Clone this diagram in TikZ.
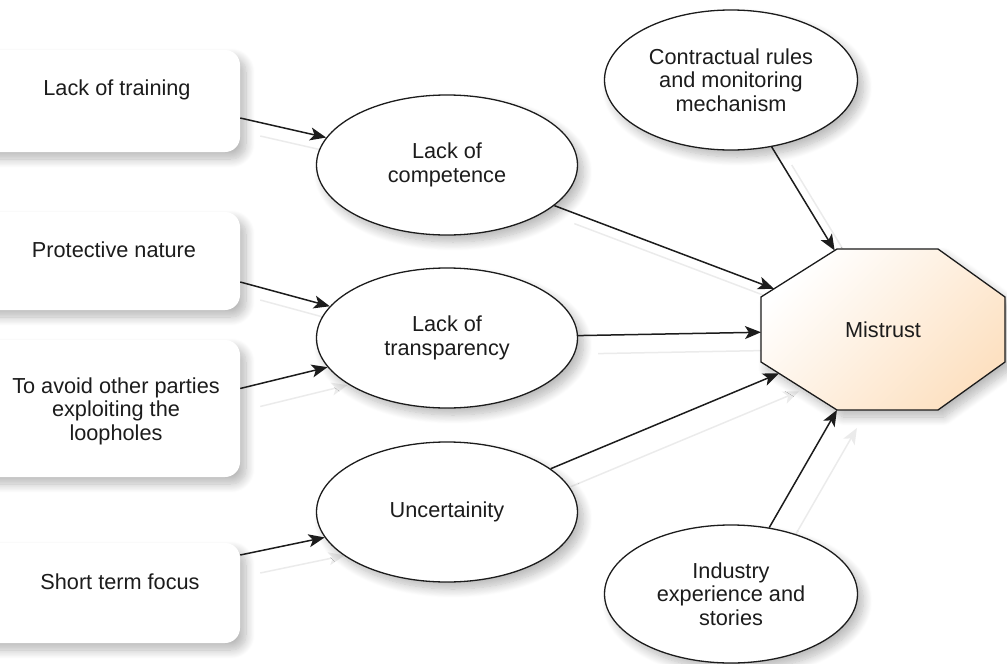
\documentclass[tikz,border=0pt]{standalone}
\usepackage{fontspec}
\setmainfont{Liberation Sans}
\usetikzlibrary{arrows.meta,shapes.geometric,shadows.blur,calc,intersections,backgrounds}
\definecolor{peach}{HTML}{FDE1C2}
\definecolor{ink}{HTML}{1C1C1C}
\definecolor{ghost}{HTML}{EBEBEB}
\begin{document}
\begin{tikzpicture}[x=1pt,y=-1pt,
  font=\fontsize{21.7}{23.5}\selectfont, text=ink,
  soft/.style={blur shadow={shadow xshift=6pt,shadow yshift=-7pt,
      shadow blur radius=9pt,shadow blur steps=12,shadow opacity=28}},
  causebox/.style={rectangle, rounded corners=15pt, fill=white,
      minimum width=270pt, inner sep=0pt, soft},
  boxtext/.style={align=center, inner sep=1pt},
  factor/.style={ellipse, draw=ink, line width=1.3pt, fill=white,
      align=center, inner sep=0pt, soft},
  link/.style={draw=ink, line width=1.5pt,
      -{Stealth[length=16pt,width=13pt,inset=4pt]}},
  ghostlink/.style={draw=ghost, line width=1.5pt,
      -{Stealth[length=16pt,width=13pt,inset=4pt]}}
]
\useasboundingbox (0,0) rectangle (1007,664);

% cause boxes on the left (they run past the left border)
\node[causebox, minimum height=102pt] (b1) at (105,101) {};
\node[causebox, minimum height=98pt]  (b2) at (105,261) {};
\node[causebox, minimum height=137pt] (b3) at (105,408.5) {};
\node[causebox, minimum height=100pt] (b4) at (105,593) {};
\node[boxtext] (t1) at (117,90)  {Lack of training};
\node[boxtext] (t2) at (114,250) {Protective nature};
\node[boxtext] (t3) at (116,411) {To avoid other parties\\exploiting the\\loopholes};
\node[boxtext] (t4) at (120,582) {Short term focus};

% intermediate factors
\node[factor, minimum width=261pt, minimum height=140pt] (e1) at (447,165) {Lack of\\competence};
\node[factor, minimum width=261pt, minimum height=140pt] (e2) at (447,338) {Lack of\\transparency};
\node[factor, minimum width=261pt, minimum height=140pt] (e3) at (447,512) {Uncertainity};
\node[factor, minimum width=253pt, minimum height=140pt] (ec) at (731,80)  {Contractual rules\\and monitoring\\mechanism};
\node[factor, minimum width=253pt, minimum height=138pt] (ei) at (731,594) {Industry\\experience and\\stories};

% the octagon
\path[name path=oct, draw=ink, line width=1.3pt, top color=white,
      bottom color=peach, shading angle=45, soft]
  (837,249) -- (938,249) -- (1005,297) -- (1005,362) -- (938,410)
  -- (837,410) -- (761,362) -- (761,297) -- cycle;
\node (m) at (883,330) {Mistrust};

% start points on the boxes
\coordinate (s1) at ($(b1.east)+(0,17)$);
\coordinate (s2) at ($(b2.east)+(0,21)$);
\coordinate (s3) at ($(b3.east)+(0,-20)$);
\coordinate (s4) at ($(b4.east)+(0,-38)$);

% end points on the octagon
\path[name path=rA] (e1) -- (m);
\path[name path=rB] (e2) -- (m);
\path[name path=rC] (e3) -- (m);
\path[name path=rD] (ec) -- (m);
\path[name path=rE] (ei) -- (m);
\path[name intersections={of=rA and oct, by={x1}}];
\path[name intersections={of=rB and oct, by={x2}}];
\path[name intersections={of=rC and oct, by={x3}}];
\path[name intersections={of=rD and oct, by={x4}}];
\path[name intersections={of=rE and oct, by={x5}}];

% faint offset copies of the connectors
\begin{scope}[on background layer]
  \begin{scope}[transform canvas={shift={(20,18)}}]
    \draw[ghostlink] (s1) -- (e1);
    \draw[ghostlink] (s2) -- (e2);
    \draw[ghostlink] (s3) -- (e2);
    \draw[ghostlink] (s4) -- (e3);
    \draw[ghostlink] (e1) -- (x1);
    \draw[ghostlink] (e2) -- (x2);
    \draw[ghostlink] (e3) -- (x3);
    \draw[ghostlink] (ec) -- (x4);
    \draw[ghostlink] (ei) -- (x5);
  \end{scope}
\end{scope}

% connectors
\draw[link] (s1) -- (e1);
\draw[link] (s2) -- (e2);
\draw[link] (s3) -- (e2);
\draw[link] (s4) -- (e3);
\draw[link] (e1) -- (x1);
\draw[link] (e2) -- (x2);
\draw[link] (e3) -- (x3);
\draw[link] (ec) -- (x4);
\draw[link] (ei) -- (x5);
\end{tikzpicture}
\end{document}
